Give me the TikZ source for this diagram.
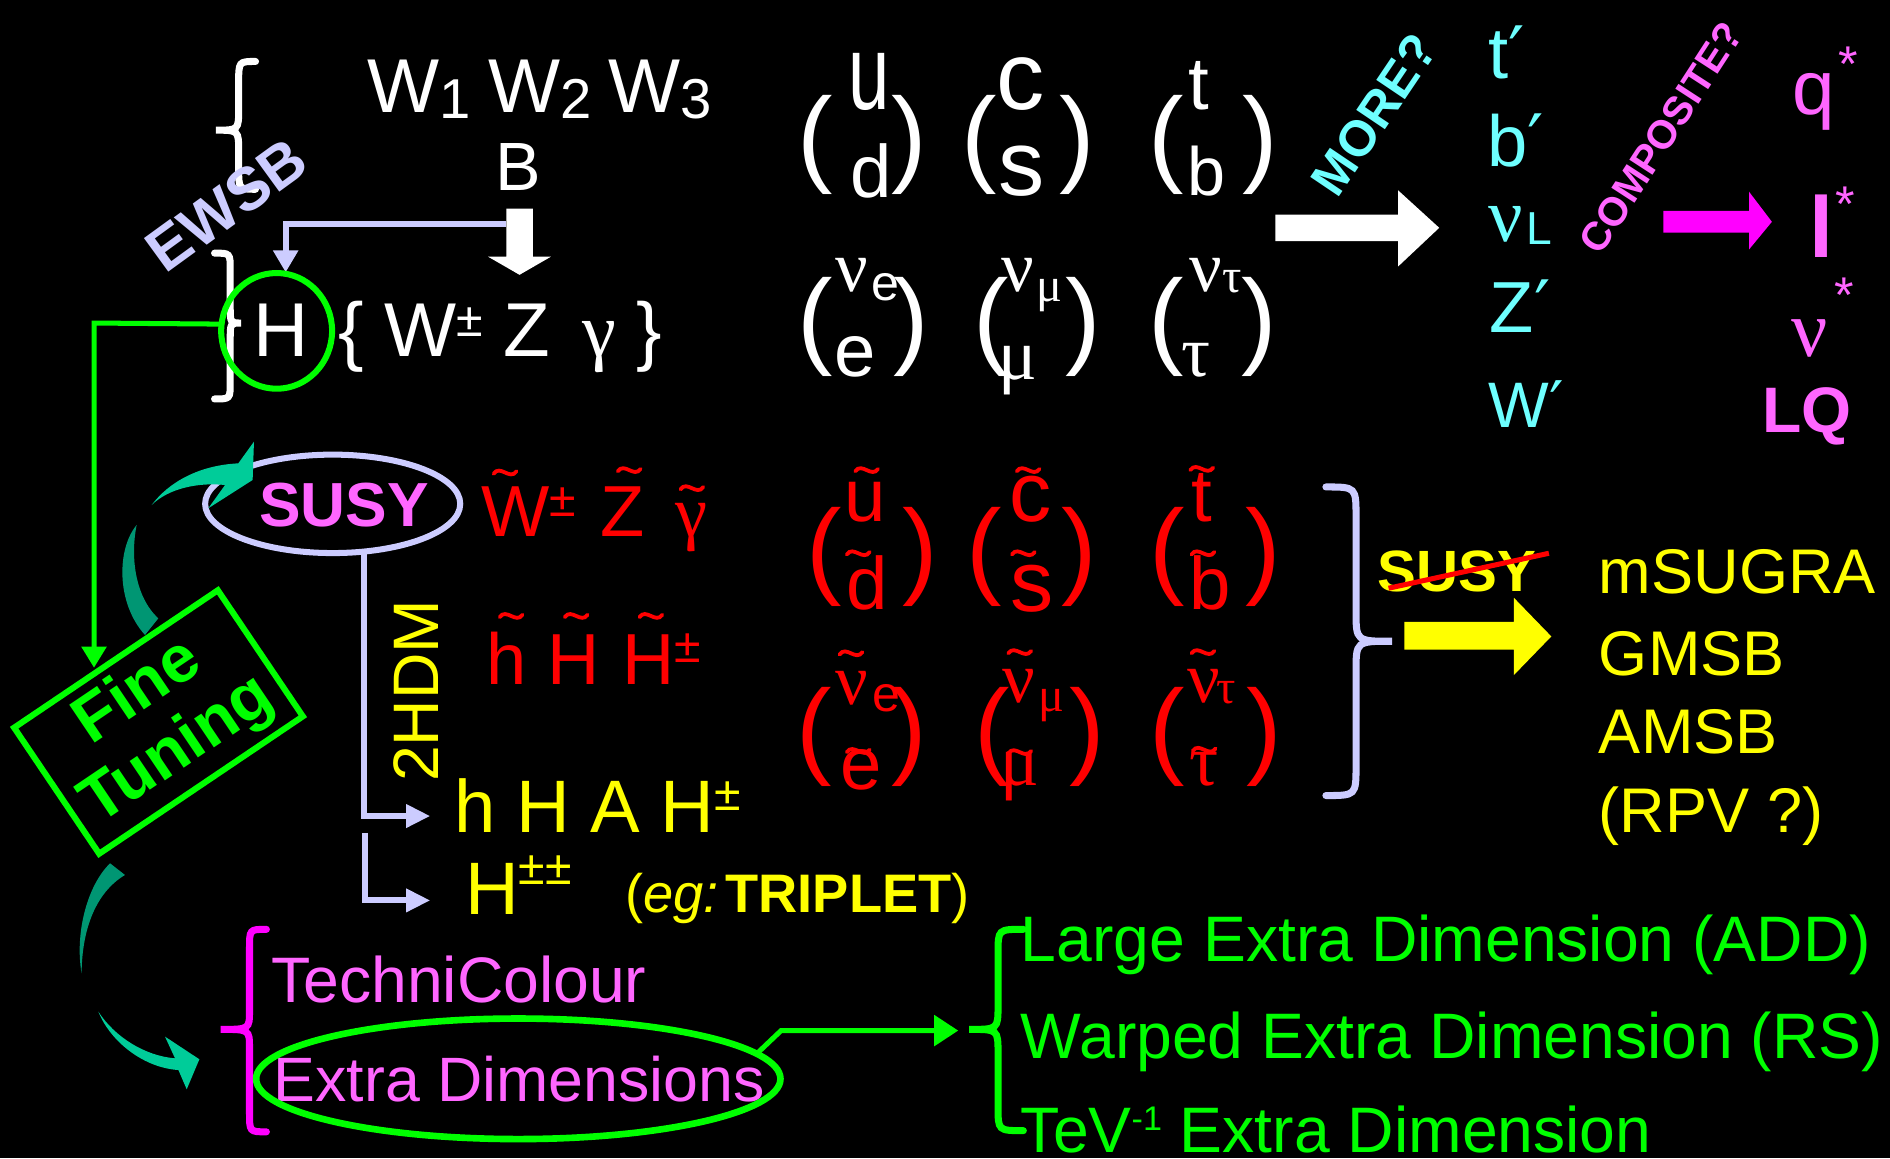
\documentclass[tikz,border=0pt]{standalone}
\usepackage{fontspec}
\setmainfont{Liberation Sans}
\newfontfamily\tms{Liberation Serif}
\newfontfamily\djv{DejaVu Sans}
\usepackage{graphicx}
\usetikzlibrary{arrows.meta,shapes.geometric}
\definecolor{lav}{RGB}{204,204,255}
\definecolor{cyn}{RGB}{110,255,255}
\definecolor{mgl}{RGB}{255,102,255}
\definecolor{mgd}{RGB}{255,0,255}
\definecolor{grn}{RGB}{0,255,0}
\definecolor{yel}{RGB}{255,255,0}
\definecolor{tealA}{RGB}{0,204,153}
\definecolor{tealB}{RGB}{0,150,115}
\newcommand\fsz[1]{\fontsize{#1}{#1}\selectfont}
\newcommand\su[1]{\scalebox{1}[1.43]{#1}}
\newcommand\prm{{\djv ′}}
\begin{document}
\begin{tikzpicture}[x=0.6pt,y=-0.6pt,
  every node/.style={inner sep=0pt,outer sep=0pt},
  bw/.style={anchor=base west},
  brc/.style={line width=3.5pt,line cap=round},
  tld/.pic={\draw[line width=1.9pt,line cap=round] (-9.5,1) .. controls (-4,-7) and (4,7) .. (9.5,-1);},
  wt/.style={bw,text=white},
  rd/.style={bw,text=red},
  yl/.style={bw,text=yel},
  cy/.style={bw,text=cyn},
  mg/.style={bw,text=mgl},
  gr/.style={bw,text=grn}]
\fill[black] (0,0) rectangle (1568,961);
\useasboundingbox (0,0) rectangle (1568,961);

% ---------- top-left: gauge bosons ----------
\draw[white,brc] (212,51) .. controls (198,51) .. (198,69) -- (198,90) .. controls (198,108) .. (179,108) .. controls (198,108) .. (198,126) -- (198,139) .. controls (198,157) .. (212,157);
\draw[white,brc] (178,210) .. controls (191,210) .. (191,224) -- (191,254) .. controls (191,268) .. (200,268) .. controls (191,268) .. (191,282) -- (191,317) .. controls (191,331) .. (178,331);
\node[text=lav,font=\bfseries\fsz{30},rotate=36] (ewsb) at (188,170) {EWSB};
\node[wt,font=\fsz{38}] (w1) at (305,93) {W\raisebox{-3pt}{\fsz{28}1}};
\node[wt,font=\fsz{38}] (w2) at (405,93) {W\raisebox{-3pt}{\fsz{28}2}};
\node[wt,font=\fsz{38}] (w3) at (505,93) {W\raisebox{-3pt}{\fsz{28}3}};
\node[wt,font=\fsz{34}] (B) at (411,158) {B};
\fill[white] (420,173) -- (442,173) -- (442,213) -- (457,213) -- (431,228) -- (405,213) -- (420,213) -- cycle;
\coordinate (lvA) at (420,186);
\coordinate (lvB) at (237,186);
\coordinate (lvC) at (237,226);
\draw[lav,line width=3pt,-{Triangle[width=12pt,length=11pt]}] (lvA) -- (lvB) -- (lvC);
\node[draw=grn,ellipse,line width=3pt,minimum width=55.2pt,minimum height=57.6pt] (Hc) at (229.5,274.5) {};
\node[text=white,font=\fsz{38},anchor=base] (H) at (233,296) {H};
\coordinate (gA) at (78,268);
\coordinate (gB) at (78,554);
\draw[grn,line width=2.5pt,-{Triangle[width=12pt,length=10.5pt]}] (Hc.173) -- (gA) -- (gB);
\node[wt,font=\fsz{38}] (lbr) at (281,296) {\{};
\node[wt,font=\fsz{38}] (Wpm) at (319,296) {W\raisebox{9.9pt}{\fsz{24}±}};
\node[wt,font=\fsz{38}] (Z) at (418,296) {Z};
\node[wt,font=\tms\fsz{38}] (gam) at (483,296) {γ};
\node[wt,font=\fsz{38}] (rbr) at (528,296) {\}};

% ---------- quarks & leptons ----------
\node[wt,font=\fsz{53}] (qp1) at (662,143.5) {(};
\node[wt,font=\fsz{53}] (qq1) at (740,143.5) {)};
\node[wt,font=\fsz{37}] (u) at (704,91) {\su{u}};
\node[wt,font=\fsz{37}] (d) at (706,164) {d};
\node[wt,font=\fsz{53}] (qp2) at (798,143.5) {(};
\node[wt,font=\fsz{53}] (qq2) at (879,143.5) {)};
\node[wt,font=\fsz{48}] (c) at (827,91) {c};
\node[wt,font=\fsz{46}] (s) at (828.5,162) {s};
\node[wt,font=\fsz{53}] (qp3) at (953,143.5) {(};
\node[wt,font=\fsz{53}] (qq3) at (1031,143.5) {)};
\node[wt,font=\fsz{37}] (t) at (986,91) {t};
\node[wt,font=\fsz{34}] (b) at (985.5,162) {b};

\node[wt,font=\fsz{53}] (lp1) at (662,294) {(};
\node[wt,font=\fsz{53}] (lq1) at (741,294) {)};
\node[wt,font=\tms\fsz{36}] (nue) at (693,242) {ν};
\node[wt,font=\fsz{25}] (nues) at (723,249) {e};
\node[wt,font=\fsz{37}] (e) at (692.5,312) {e};
\node[wt,font=\fsz{53}] (lp2) at (808,294) {(};
\node[wt,font=\fsz{53}] (lq2) at (884,294) {)};
\node[wt,font=\tms\fsz{36}] (num) at (831,242) {ν};
\node[wt,font=\tms\fsz{24}] (nums) at (860,250) {μ};
\node[wt,font=\tms\fsz{36}] (mu) at (828,314.6) {μ};
\node[wt,font=\fsz{53}] (lp3) at (953,294) {(};
\node[wt,font=\fsz{53}] (lq3) at (1030,294) {)};
\node[wt,font=\tms\fsz{36}] (nut) at (987,242) {ν};
\node[wt,font=\tms\fsz{24}] (nuts) at (1014,243) {τ};
\node[wt,font=\tms\fsz{36}] (tau) at (980,312) {τ};

% ---------- MORE? ----------
\fill[white] (1058,178) -- (1160,178) -- (1160,158) -- (1194,189) -- (1160,221) -- (1160,200) -- (1058,200) -- cycle;
\node[text=cyn,font=\bfseries\fsz{25},rotate=56] (more) at (1140,95) {MORE?};
\node[cy,font=\fsz{36}] (tp) at (1235,65) {t\prm};
\node[cy,font=\fsz{36}] (bp) at (1234,138) {b\prm};
\node[cy,font=\tms\fsz{38}] (nuL) at (1235,200) {ν};
\node[cy,font=\fsz{23}] (nuLs) at (1266,203) {L};
\node[cy,font=\fsz{36}] (Zp) at (1236,276) {Z\prm};
\node[cy,font=\fsz{32}] (Wp) at (1235,355) {W\prm};

% ---------- COMPOSITE? ----------
\node[text=mgl,font=\bfseries\fsz{20},rotate=57] (comp) at (1378,114) {COMPOSITE?};
\fill[mgd] (1380,175) -- (1451,175) -- (1451,159) -- (1470,184) -- (1451,207) -- (1451,193) -- (1380,193) -- cycle;
\node[mg,font=\fsz{38}] (q) at (1487,95) {q};
\node[text=mgl,font=\fsz{25},anchor=north] (qs) at (1533,39) {*};
\node[mg,font=\bfseries\fsz{43}] (l) at (1501,214) {l};
\node[text=mgl,font=\fsz{25},anchor=north] (ls) at (1531,155) {*};
\node[mg,font=\tms\fsz{40}] (nu) at (1486,296) {ν};
\node[text=mgl,font=\fsz{25},anchor=north] (nus) at (1530,231) {*};
\node[mg,font=\bfseries\fsz{32}] (LQ) at (1462,359) {LQ};

% ---------- SUSY ----------
\node[draw=lav,ellipse,line width=3pt,minimum width=127pt,minimum height=49pt] (susyE) at (276,418) {};
\node[text=mgl,font=\bfseries\fsz{31},anchor=base] (susy) at (285.5,437) {SUSY};
\fill[tealA] (125.8,419) .. controls (140,400) and (165,386) .. (197.7,384.4) -- (210.7,366.4) -- (209.6,398.2) -- (172.8,421.7) -- (186.7,402.4) .. controls (165,400) and (140,405) .. (125.8,419) -- cycle;
\fill[tealB] (113.4,435.5) .. controls (97,455) and (96,500) .. (120.3,526.8) -- (131.3,513) .. controls (112,495) and (108,462) .. (113.4,435.5) -- cycle;
\node[draw=grn,line width=3pt,rotate=34,minimum width=122.3pt,minimum height=75.7pt,align=center,text=grn,font=\bfseries\fontsize{33}{35}\selectfont] (ft) at (131.5,599) {Fine\\Tuning};
\fill[tealB] (91.3,716.2) .. controls (72,735) and (62,775) .. (67.7,807.5) .. controls (68,770) and (80,740) .. (103.7,725.9) -- cycle;
\fill[tealA] (81.6,839.3) .. controls (95,860) and (120,876) .. (145.2,878) -- (136.9,860) -- (165.4,878.8) -- (154.9,903.7) -- (148,887.7) .. controls (120,886) and (92,865) .. (81.6,839.3) -- cycle;

\node[rd,font=\fsz{36}] (sW) at (399.5,445) {W\raisebox{9.8pt}{\fsz{24}±}};
\node[rd,font=\fsz{36}] (sZ) at (498,445) {Z};
\node[rd,font=\tms\fsz{36}] (sg) at (560,445) {γ};
\pic[red] at (419,392) {tld};
\pic[red] at (522,390) {tld};
\pic[red] at (574,405) {tld};
\node[rd,font=\fsz{36}] (sh) at (403.5,568) {h};
\node[rd,font=\fsz{36}] (sH) at (454,568) {H};
\node[rd,font=\fsz{36}] (sHp) at (516.5,568) {H\raisebox{10.8pt}{\fsz{24}±}};
\pic[red] at (424,511) {tld};
\pic[red] at (478,511) {tld};
\pic[red] at (540,511) {tld};

\node[text=yel,font=\fsz{32},rotate=90] (thdm) at (345,573) {2HDM};
\coordinate (l1) at (303,677);
\coordinate (l1e) at (357,677);
\coordinate (l2s) at (303,691);
\coordinate (l2c) at (303,747);
\coordinate (l2e) at (357,747);
\draw[lav,line width=3pt,-{Triangle[width=11pt,length=12pt]}] (susyE.-57) -- (susyE.-57 |- l1) -- (l1e);
\draw[lav,line width=3pt,-{Triangle[width=11pt,length=12pt]}] (l2s) -- (l2c) -- (l2e);
\node[yl,font=\fsz{37}] (hHA) at (377,691) {h H A H\raisebox{11.4pt}{\fsz{24}±}};
\node[yl,font=\fsz{37}] (Hpp) at (386,759) {H\raisebox{15pt}{\fsz{24}±±}};
\node[yl,font=\fsz{27}] (trip) at (519,757) {(\textit{eg:}\hspace{0.12em}\textbf{TRIPLET})};

% ---------- squarks & sleptons ----------
\node[rd,font=\fsz{53}] (sp1) at (668.7,484.8) {(};
\node[rd,font=\fsz{53}] (sq1) at (748.5,484.8) {)};
\node[rd,font=\fsz{37}] (su) at (701,432.6) {u};
\node[rd,font=\fsz{37}] (sd) at (702.5,506) {d};
\node[rd,font=\fsz{53}] (sp2) at (801.5,484.8) {(};
\node[rd,font=\fsz{53}] (sq2) at (881,484.8) {)};
\node[rd,font=\fsz{42}] (sc) at (837.5,432.6) {c};
\node[rd,font=\fsz{43}] (ss) at (838.5,507) {s};
\node[rd,font=\fsz{53}] (sp3) at (954,484.8) {(};
\node[rd,font=\fsz{53}] (sq3) at (1033,484.8) {)};
\node[rd,font=\fsz{37}] (st) at (988.5,432.6) {t};
\node[rd,font=\fsz{37}] (sb) at (987,506) {b};
\pic[red] at (719,390) {tld};
\pic[red] at (712,459) {tld};
\pic[red] at (853,390) {tld};
\pic[red] at (849,459) {tld};
\pic[red] at (997,389) {tld};
\pic[red] at (998,459) {tld};

\node[rd,font=\fsz{53}] (slp1) at (660.4,634.1) {(};
\node[rd,font=\fsz{53}] (slq1) at (740,634.1) {)};
\node[rd,font=\tms\fsz{36}] (snue) at (693,584.7) {ν};
\node[rd,font=\fsz{25}] (snues) at (723.5,590) {e};
\node[rd,font=\fsz{37}] (se) at (697.5,655) {e};
\node[rd,font=\fsz{53}] (slp2) at (808.3,634.1) {(};
\node[rd,font=\fsz{53}] (slq2) at (887.5,634.1) {)};
\node[rd,font=\tms\fsz{36}] (snum) at (831.5,583) {ν};
\node[rd,font=\tms\fsz{24}] (snums) at (861.5,590) {μ};
\node[rd,font=\tms\fsz{36}] (smu) at (830,652) {μ};
\node[rd,font=\fsz{53}] (slp3) at (954,634.1) {(};
\node[rd,font=\fsz{53}] (slq3) at (1034.5,634.1) {)};
\node[rd,font=\tms\fsz{36}] (snut) at (985,583) {ν};
\node[rd,font=\tms\fsz{24}] (snuts) at (1009,584) {τ};
\node[rd,font=\tms\fsz{36}] (stau) at (987,652) {τ};
\pic[red] at (706,542) {tld};
\pic[red] at (712,623) {tld};
\pic[red] at (846,541) {tld};
\pic[red] at (846,624) {tld};
\pic[red] at (998,541) {tld};
\pic[red] at (999,622) {tld};

% ---------- SUSY breaking ----------
\draw[lav,brc] (1100,404) .. controls (1125,404) .. (1125,429) -- (1125,507) .. controls (1125,532) .. (1155,532) .. controls (1125,532) .. (1125,557) -- (1125,635) .. controls (1125,660) .. (1100,660);
\node[yl,font=\bfseries\fsz{29}] (susy2) at (1143,491) {SUSY};
\draw[red,line width=2.5pt] (1152,488) -- (1285,459);
\fill[yel] (1165,516) -- (1256,516) -- (1256,496) -- (1287,528) -- (1256,560) -- (1256,539) -- (1165,539) -- cycle;
\node[yl,font=\fsz{31.4}] (msugra) at (1326.5,492) {mSUGRA};
\node[yl,font=\fsz{31.4}] (gmsb) at (1326.5,560) {GMSB};
\node[yl,font=\fsz{31.4}] (amsb) at (1326.5,625) {AMSB};
\node[yl,font=\fsz{31.4}] (rpv) at (1326.5,691) {(RPV ?)};

% ---------- bottom ----------
\draw[mgd,brc] (221,771) .. controls (207,771) .. (207,787) -- (207,838) .. controls (207,854) .. (183,854) .. controls (207,854) .. (207,870) -- (207,923) .. controls (207,939) .. (221,939);
\node[mg,font=\fsz{32}] (tc) at (225,832) {TechniColour};
\node[mg,font=\fsz{31.2}] (xd) at (227,914) {Extra Dimensions};
\node[draw=grn,ellipse,line width=3.3pt,minimum width=261pt,minimum height=60pt] (xdE) at (430,895) {};
\coordinate (gc1) at (648,855);
\coordinate (gc2) at (795,855);
\draw[grn,line width=2.5pt,-{Triangle[width=15pt,length=12pt]}] (xdE.6) -- (gc1) -- (gc2);
\draw[grn,brc] (849,771) .. controls (828,771) .. (828,791) -- (828,834) .. controls (828,854) .. (804,854) .. controls (828,854) .. (828,874) -- (828,918) .. controls (828,938) .. (849,938);
\node[gr,font=\fsz{32}] (add) at (847,798) {Large Extra Dimension (ADD)};
\node[gr,font=\fsz{32}] (rs) at (847,878) {Warped Extra Dimension (RS)};
\node[gr,font=\fsz{32}] (tev) at (847,956) {TeV\raisebox{10.7pt}{\fsz{17}-1} Extra Dimension};
\end{tikzpicture}
\end{document}
